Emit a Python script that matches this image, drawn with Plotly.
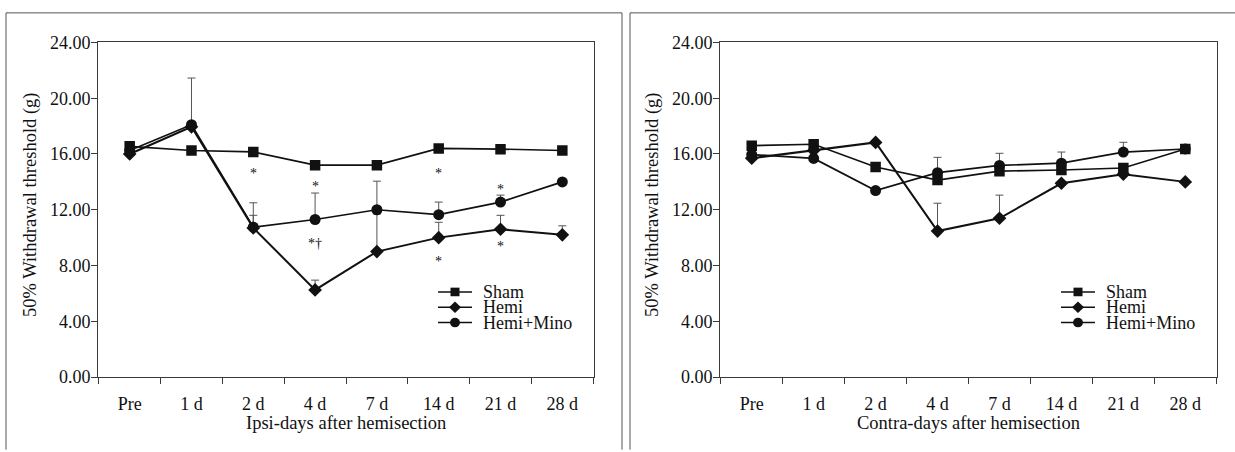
import plotly.graph_objects as go

# ---------------- data ----------------
categories = ["Pre", "1 d", "2 d", "4 d", "7 d", "14 d", "21 d", "28 d"]
y_ticks = [0, 4, 8, 12, 16, 20, 24]

# Ipsilateral panel
ipsi_sham = [16.55, 16.25, 16.15, 15.2, 15.2, 16.4, 16.35, 16.25]
ipsi_hemi = [16.0, 17.95, 10.7, 6.25, 9.0, 10.0, 10.6, 10.2]
ipsi_mino = [16.25, 18.1, 10.75, 11.3, 12.0, 11.65, 12.55, 14.0]
ipsi_sham_err = [0, 0, 0, 0, 0, 0, 0, 0]
ipsi_hemi_err = [0, 3.5, 0.9, 0.7, 2.7, 1.1, 1.0, 0.65]
ipsi_mino_err = [0, 0, 1.75, 1.9, 2.05, 0.9, 0.5, 0]

# Contralateral panel
contra_sham = [16.6, 16.7, 15.07, 14.13, 14.77, 14.85, 15.0, 16.36]
contra_hemi = [15.7, 16.25, 16.83, 10.47, 11.39, 13.9, 14.55, 14.0]
contra_mino = [15.96, 15.68, 13.38, 14.66, 15.18, 15.34, 16.14, 16.36]
contra_sham_err = [0, 0, 0, 0, 0, 0, 0, 0]
contra_hemi_err = [0, 0, 0, 2.0, 1.66, 0, 0, 0]
contra_mino_err = [0, 0, 0, 1.1, 0.87, 0.8, 0.7, 0]

# significance marks (ipsi panel)
star_cats = ["2 d", "4 d", "4 d", "14 d", "14 d", "21 d", "21 d"]
star_vals = [14.83, 13.9, 9.8, 14.84, 8.5, 13.65, 9.6]
star_text = ["*", "*", "*\u2020", "*", "*", "*", "*"]

series_names = ["Sham", "Hemi", "Hemi+Mino"]
series_symbols = ["square", "diamond", "circle"]
x_titles = ["Ipsi-days after hemisection", "Contra-days after hemisection"]
y_title = "50% Withdrawal threshold (g)"

# ---------------- layout helpers ----------------
W, H = 1235, 452
FONT = "Liberation Serif, Times New Roman, serif"
INK = "#111111"
AX = "#3a3a3a"


def fx(p):
    return p / W


def fy(p):
    return 1 - p / H


panels = [
    dict(x0=98, x1=594, xa="x", ya="y"),
    dict(x0=720, x1=1217, xa="x2", ya="y2"),
]
PT, PB = 34, 384

fig = go.Figure()

panel_data = [
    ([ipsi_sham, ipsi_hemi, ipsi_mino], [ipsi_sham_err, ipsi_hemi_err, ipsi_mino_err]),
    ([contra_sham, contra_hemi, contra_mino], [contra_sham_err, contra_hemi_err, contra_mino_err]),
]
sizes = {"square": 10.5, "diamond": 10.5, "circle": 11}
widths = [1.6, 2.0, 1.7]

for p, (vals, errs) in zip(panels, panel_data):
    for name, sym, v, e, lw in zip(series_names, series_symbols, vals, errs, widths):
        fig.add_trace(go.Scatter(
            x=categories, y=v, name=name, mode="lines+markers",
            xaxis=p["xa"], yaxis=p["ya"], showlegend=False,
            line=dict(color=INK, width=lw),
            marker=dict(symbol=sym, size=sizes[sym], color=INK),
            error_y=dict(type="data", array=e, arrayminus=[0] * len(e), symmetric=False,
                         color="#555555", thickness=1, width=4),
        ))

axis_common = dict(showline=True, linecolor=AX, linewidth=1, mirror=True,
                   showgrid=False, zeroline=False, ticks="outside", tickcolor=AX,
                   tickfont=dict(family=FONT, size=18, color=INK))

layout = dict(
    width=W, height=H, margin=dict(l=0, r=0, t=0, b=0),
    paper_bgcolor="white", plot_bgcolor="white",
    font=dict(family=FONT, color=INK), showlegend=False,
)
for i, p in enumerate(panels):
    sx = "" if i == 0 else "2"
    layout["xaxis" + sx] = dict(axis_common, domain=[fx(p["x0"]), fx(p["x1"])],
                                type="category", categoryorder="array", categoryarray=categories,
                                tickson="boundaries", ticklen=6, anchor="y" + sx,
                                ticklabelstandoff=10)
    layout["yaxis" + sx] = dict(axis_common, domain=[fy(PB), fy(PT)], range=[0, 24],
                                tickvals=y_ticks, tickformat=".2f", ticklen=6,
                                ticklabelstandoff=-3, anchor="x" + sx)
fig.update_layout(**layout)

annotations = []
shapes = []
# axis titles
for i, p in enumerate(panels):
    annotations.append(dict(text=x_titles[i], xref="paper", yref="paper",
                            x=fx((p["x0"] + p["x1"]) / 2), y=fy(432), showarrow=False,
                            font=dict(family=FONT, size=18.5, color=INK),
                            xanchor="center", yanchor="middle"))
    annotations.append(dict(text=y_title, xref="paper", yref="paper",
                            x=fx(p["x0"] - 67), y=fy(204), showarrow=False, textangle=-90,
                            font=dict(family=FONT, size=18.5, color=INK),
                            xanchor="center", yanchor="middle"))

# significance marks
for c, v, t in zip(star_cats, star_vals, star_text):
    annotations.append(dict(text=t, x=c, y=v, xref="x", yref="y", showarrow=False,
                            font=dict(family=FONT, size=14, color=INK),
                            xanchor="center", yanchor="middle", yshift=-3))

# legends (custom, tight spacing like the original)
leg_rows = [295, 311, 327]
for p in panels:
    tx = p["x1"] - 113
    lx0, lx1 = p["x1"] - 156, p["x1"] - 122
    mx = (lx0 + lx1) / 2
    for name, sym, ry in zip(series_names, series_symbols, leg_rows):
        shapes.append(dict(type="line", xref="paper", yref="paper",
                           x0=fx(lx0), x1=fx(lx1), y0=fy(ry), y1=fy(ry),
                           line=dict(color=INK, width=1.6)))
        r = 4.5
        if sym == "square":
            shapes.append(dict(type="rect", xref="paper", yref="paper",
                               x0=fx(mx - r), x1=fx(mx + r), y0=fy(ry - r), y1=fy(ry + r),
                               fillcolor=INK, line=dict(width=0)))
        elif sym == "circle":
            shapes.append(dict(type="circle", xref="paper", yref="paper",
                               x0=fx(mx - 5), x1=fx(mx + 5), y0=fy(ry - 5), y1=fy(ry + 5),
                               fillcolor=INK, line=dict(width=0)))
        else:
            d = 6
            path = "M {a},{b} L {c},{e} L {a},{f} L {g},{e} Z".format(
                a=fx(mx), b=fy(ry - d), c=fx(mx + d), e=fy(ry), f=fy(ry + d), g=fx(mx - d))
            shapes.append(dict(type="path", xref="paper", yref="paper", path=path,
                               fillcolor=INK, line=dict(width=0)))
        annotations.append(dict(text=name, xref="paper", yref="paper", x=fx(tx), y=fy(ry),
                                showarrow=False, xanchor="left", yanchor="middle",
                                font=dict(family=FONT, size=18, color=INK)))

# outer panel frames
frame = dict(color="#555555", width=1)
FT = 3
for (l, r) in [(6, 622), (630, 1240)]:
    shapes.append(dict(type="line", xref="paper", yref="paper", x0=fx(l), x1=fx(r),
                       y0=fy(FT), y1=fy(FT), line=frame))
    shapes.append(dict(type="line", xref="paper", yref="paper", x0=fx(l), x1=fx(l),
                       y0=fy(FT), y1=fy(460), line=frame))
    if r < W:
        shapes.append(dict(type="line", xref="paper", yref="paper", x0=fx(r), x1=fx(r),
                           y0=fy(FT), y1=fy(460), line=frame))

fig.update_layout(annotations=annotations, shapes=shapes)
fig.write_html("out.html", config={"displayModeBar": False},
               post_script="document.body.style.margin='0px';")
